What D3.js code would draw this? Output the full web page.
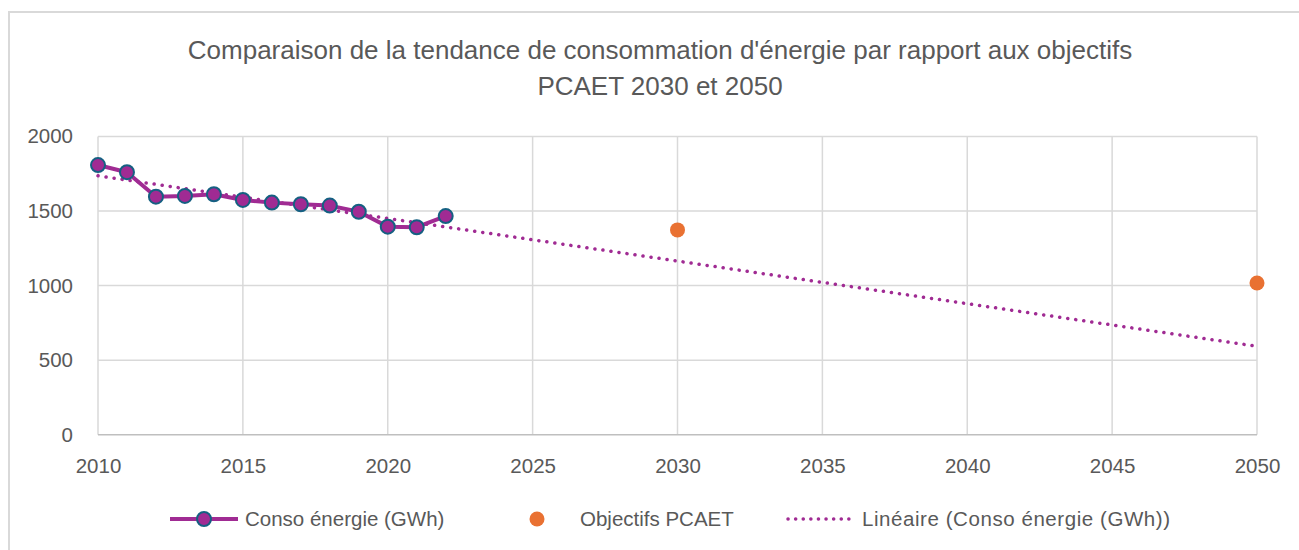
<!DOCTYPE html>
<html><head><meta charset="utf-8">
<script src="https://cdn.jsdelivr.net/npm/d3@7"></script>
<style>body{margin:0;background:#fff;} svg{display:block;font-family:"Liberation Sans",Arial,sans-serif;}</style>
</head><body>
<svg id="c" width="1299" height="550"></svg>
<script>
const titleLines = ["Comparaison de la tendance de consommation d'énergie par rapport aux objectifs", "PCAET 2030 et 2050"];
const years = [2010,2011,2012,2013,2014,2015,2016,2017,2018,2019,2020,2021,2022];
const conso = [1808,1760,1596,1601,1612,1574,1556,1545,1536,1495,1395,1391,1466];
const objYears = [2030,2050];
const objValues = [1373,1017];
const xTicks = [2010,2015,2020,2025,2030,2035,2040,2045,2050];
const yTicks = [0,500,1000,1500,2000];
const seriesNames = ["Conso énergie (GWh)","Objectifs PCAET","Linéaire (Conso énergie (GWh))"];

const purple = "#A02B93", teal = "#156082", orange = "#E97132", grid = "#D9D9D9", txt = "#595959";
const svg = d3.select("#c");
svg.append("rect").attr("x",9).attr("y",12).attr("width",1300).attr("height",560).attr("fill","#fff").attr("stroke",grid).attr("stroke-width",2);

const x = d3.scaleLinear().domain([2010,2050]).range([98,1257]);
const y = d3.scaleLinear().domain([0,2000]).range([434.7,136.4]);

// title
svg.append("g").selectAll("text").data(titleLines).join("text")
  .attr("x",660).attr("y",(d,i)=>59+i*36).attr("text-anchor","middle")
  .attr("fill",txt).attr("font-size",26).text(d=>d);

// gridlines
svg.append("g").selectAll("line").data(yTicks.filter(d=>d>0)).join("line")
  .attr("x1",x(2010)).attr("x2",x(2050)).attr("y1",d=>y(d)).attr("y2",d=>y(d))
  .attr("stroke",grid).attr("stroke-width",1.5);
svg.append("g").selectAll("line").data(xTicks).join("line")
  .attr("x1",d=>x(d)).attr("x2",d=>x(d)).attr("y1",y(2000)).attr("y2",y(0))
  .attr("stroke",grid).attr("stroke-width",1.5);
svg.append("line").attr("x1",x(2010)).attr("x2",x(2050)).attr("y1",y(0)).attr("y2",y(0)).attr("stroke","#BFBFBF").attr("stroke-width",1.5);

// axes labels
const yAxis = d3.axisLeft(y).tickValues(yTicks).tickFormat(d3.format("d")).tickSize(0).tickPadding(0);
const gy = svg.append("g").attr("transform","translate(73,0)").call(yAxis);
gy.select(".domain").remove();
gy.selectAll("text").attr("fill",txt).attr("font-size",20.5).attr("font-family","Liberation Sans, Arial, sans-serif");
const xAxis = d3.axisBottom(x).tickValues(xTicks).tickFormat(d3.format("d")).tickSize(0).tickPadding(0);
const gx = svg.append("g").attr("transform","translate(0,458)").call(xAxis);
gx.select(".domain").remove();
gx.selectAll("text").attr("fill",txt).attr("font-size",20.5).attr("font-family","Liberation Sans, Arial, sans-serif");

// linear trend (least squares, like the spreadsheet trendline)
const mx = d3.mean(years), my = d3.mean(conso);
const slope = d3.sum(years,(v,i)=>(v-mx)*(conso[i]-my))/d3.sum(years,v=>(v-mx)*(v-mx));
const icpt = my - slope*mx;
const trendX = [2010,2050];
svg.append("path").datum(trendX)
  .attr("d",d3.line().x(d=>x(d)).y(d=>y(icpt+slope*d)))
  .attr("fill","none").attr("stroke",purple).attr("stroke-width",3.5)
  .attr("stroke-dasharray","0.1 8").attr("stroke-linecap","round");

// consumption line
const pts = years.map((yr,i)=>({yr,v:conso[i]}));
svg.append("path").datum(pts)
  .attr("d",d3.line().x(d=>x(d.yr)).y(d=>y(d.v)))
  .attr("fill","none").attr("stroke",purple).attr("stroke-width",4).attr("stroke-linejoin","round");
svg.append("g").selectAll("circle").data(pts).join("circle")
  .attr("cx",d=>x(d.yr)).attr("cy",d=>y(d.v)).attr("r",7)
  .attr("fill",purple).attr("stroke",teal).attr("stroke-width",2);

// objectives
svg.append("g").selectAll("circle").data(objYears.map((yr,i)=>({yr,v:objValues[i]}))).join("circle")
  .attr("cx",d=>x(d.yr)).attr("cy",d=>y(d.v)).attr("r",7.5).attr("fill",orange);

// legend
const ly = 519;
const lg = svg.append("g");
lg.append("line").attr("x1",170).attr("x2",238).attr("y1",ly).attr("y2",ly).attr("stroke",purple).attr("stroke-width",4);
lg.append("circle").attr("cx",204).attr("cy",ly).attr("r",7).attr("fill",purple).attr("stroke",teal).attr("stroke-width",2);
lg.append("text").attr("x",245).attr("y",ly+7).attr("font-size",20.5).attr("fill",txt).text(seriesNames[0]);
lg.append("circle").attr("cx",537).attr("cy",ly).attr("r",7.5).attr("fill",orange);
lg.append("text").attr("x",580).attr("y",ly+7).attr("font-size",20.5).attr("fill",txt).text(seriesNames[1]);
lg.append("line").attr("x1",788).attr("x2",855).attr("y1",ly).attr("y2",ly).attr("stroke",purple).attr("stroke-width",3.5).attr("stroke-dasharray","0.1 7.5").attr("stroke-linecap","round");
lg.append("text").attr("x",862).attr("y",ly+7).attr("font-size",20.5).attr("fill",txt).attr("textLength",308).attr("lengthAdjust","spacing").text(seriesNames[2]);
</script>
</body></html>
